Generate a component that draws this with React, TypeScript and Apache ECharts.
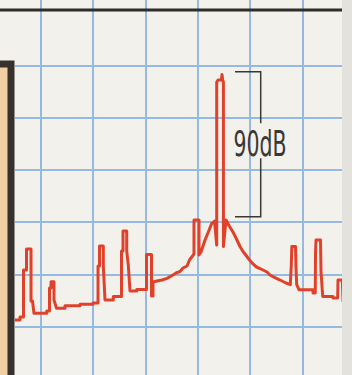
import React, { useEffect, useRef } from "react";
import * as echarts from "echarts";

// Spectrum trace: x in tenths of a horizontal division, y in tenths of a vertical division
const freq = [
  5.09, 6.05, 6.05, 6.71, 6.71, 7.29, 7.29, 8.15, 8.15, 8.43, 8.72, 11.15, 11.15, 11.68, 11.68, 11.97,
  11.97, 12.54, 12.54, 13.02, 14.64, 14.64, 17.51, 17.51, 19.99, 19.99, 20.95, 20.95, 21.23, 21.23,
  21.96, 21.96, 22.28, 23.87, 23.87, 25.43, 25.43, 25.72, 25.72, 26.43, 26.43, 26.73, 27.06, 28.34,
  28.34, 30.21, 30.21, 31.17, 31.17, 31.45, 31.45, 32.22, 33.17, 34.13, 35.27, 35.85, 36.61, 37.18,
  37.95, 38.42, 39.0, 39.28, 39.28, 40.24, 40.24, 40.62, 41.39, 42.02, 42.66, 43.2, 43.62, 43.62,
  43.87, 44.54, 44.63, 44.75, 44.9, 44.9, 45.4, 46.07, 46.73, 47.31, 48.07, 48.64, 49.03, 49.89,
  50.55, 51.22, 51.89, 52.46, 53.23, 53.8, 54.66, 55.62, 56.28, 56.86, 57.68, 57.87, 57.97, 58.67,
  58.77, 58.9, 59.34, 62.02, 62.02, 62.45, 62.49, 62.59, 63.45, 63.54, 63.87, 65.84, 65.84, 66.73,
  66.79, 67.61, 67.75, 68.13,
];
const level = [
  1.24, 1.24, 1.81, 1.81, 10.82, 10.82, 14.85, 14.85, 4.88, 4.88, 2.52, 2.52, 2.96, 2.96, 7.37, 7.37,
  8.58, 8.58, 5.07, 3.48, 3.48, 3.98, 3.98, 4.25, 4.25, 4.5, 4.5, 11.59, 11.59, 15.43,
  15.43, 11.59, 5.07, 5.07, 5.74, 5.74, 14.47, 14.47, 18.3, 18.3, 14.47, 11.78, 6.8, 6.8,
  7.09, 7.09, 13.8, 13.8, 5.84, 5.84, 8.52, 8.72, 8.91, 9.23, 9.87, 10.25, 10.54, 11.21,
  11.59, 12.74, 13.51, 13.89, 20.41, 20.41, 13.7, 14.28, 16.58, 18.11, 19.74, 20.22, 15.62, 46.87,
  47.26, 47.26, 48.31, 47.26, 46.87, 15.33, 20.41, 19.17, 18.11, 16.96, 15.33, 14.37, 13.89, 12.74,
  11.98, 11.4, 11.11, 10.82, 10.44, 9.87, 9.39, 8.95, 8.62, 8.33, 8.01, 11.78, 15.33, 15.33,
  11.21, 8.01, 7.05, 7.05, 6.41, 6.41, 13.7, 16.58, 16.58, 10.63, 5.74, 5.74, 5.46, 5.46,
  8.91, 8.91, 4.78, 4.78,
];
const spanLabel = "90dB";

const PAPER = "#f3f1ec";
const BLUE = "#95b9df";
const RED = "#e0412b";
const INK = "#3a3835";

export default function App() {
  const ref = useRef<HTMLDivElement>(null);
  useEffect(() => {
    document.body.style.margin = "0";
    document.body.style.background = PAPER;
    const chart = echarts.init(ref.current!, null, { renderer: "svg" });
    const hidden = { show: false };
    const bare = { axisLine: hidden, axisTick: hidden, axisLabel: hidden };
    chart.setOption({
      animation: false,
      backgroundColor: PAPER,
      grid: [
        // grid 0: vertical division lines
        { left: 40.7, right: 49.55, top: 0, bottom: 0, containLabel: false },
        // grid 1: horizontal division lines
        { left: 15, right: 10, top: 65.7, bottom: 48.55, containLabel: false },
        // grid 2: the trace (same scale: 5.235 px per x unit, 5.215 px per y unit)
        { left: 12, right: 4, top: 0, bottom: 0, containLabel: false },
      ],
      xAxis: [
        {
          gridIndex: 0, type: "value", min: 10, max: 60, interval: 10, ...bare,
          splitLine: { show: true, lineStyle: { color: BLUE, width: 2 } },
        },
        { gridIndex: 1, type: "value", min: 0, max: 1, ...bare, splitLine: hidden },
        { gridIndex: 2, type: "value", min: 4.518, max: 68.7, ...bare, splitLine: hidden },
      ],
      yAxis: [
        { gridIndex: 0, type: "value", min: 0, max: 1, ...bare, splitLine: hidden },
        {
          gridIndex: 1, type: "value", min: 0, max: 50, interval: 10, ...bare,
          splitLine: { show: true, lineStyle: { color: BLUE, width: 2 } },
        },
        { gridIndex: 2, type: "value", min: -9.31, max: 62.6, ...bare, splitLine: hidden },
      ],
      series: [
        {
          type: "line",
          xAxisIndex: 2,
          yAxisIndex: 2,
          data: freq.map((f, i) => [f, level[i]]),
          showSymbol: false,
          symbol: "none",
          lineStyle: { color: RED, width: 3, join: "round" },
          z: 5,
        },
      ],
      graphic: [
        {
          type: "rect", z: 100,
          shape: { x: 342, y: 0, width: 12, height: 375 },
          style: { fill: "#e4e2dd" },
        },
        {
          type: "line", z: 100,
          shape: { x1: 0, y1: 10, x2: 342, y2: 10 },
          style: { stroke: "#2f2d2b", lineWidth: 3 },
        },
        {
          type: "rect", z: 100,
          shape: { x: -20, y: 64, width: 31, height: 400 },
          style: { fill: "#efcfa3", stroke: "#36312c", lineWidth: 7 },
        },
        {
          type: "polyline", z: 100,
          shape: { points: [[235, 71.7], [260.7, 71.7], [260.7, 123.3]] },
          style: { stroke: INK, lineWidth: 1.5, fill: null },
        },
        {
          type: "polyline", z: 100,
          shape: { points: [[260.7, 158.3], [260.7, 216.7], [235, 216.7]] },
          style: { stroke: INK, lineWidth: 1.5, fill: null },
        },
        {
          type: "text", z: 100,
          x: 260, y: 144, scaleX: 0.65,
          style: {
            text: spanLabel,
            fontSize: 35,
            fontFamily: "'Liberation Sans Narrow', 'DejaVu Sans Condensed', sans-serif",
            fill: INK,
            align: "center",
            verticalAlign: "middle",
          },
        },
      ],
    });
    return () => chart.dispose();
  }, []);
  return <div ref={ref} style={{ width: 352, height: 375 }} />;
}
